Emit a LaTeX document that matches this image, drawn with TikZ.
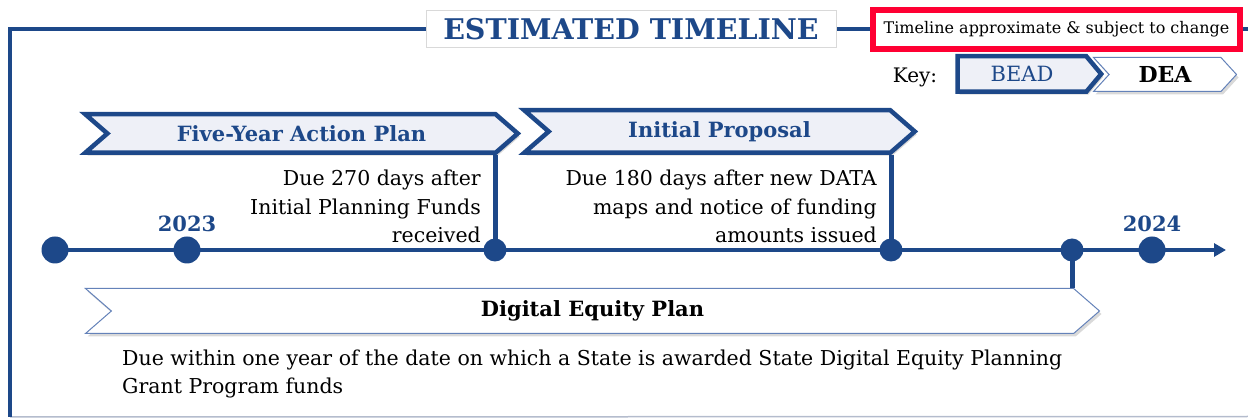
\documentclass[tikz,border=0pt]{standalone}
\usepackage{fontspec}
\setmainfont{DejaVu Serif}
\usetikzlibrary{positioning,shapes.symbols,arrows.meta,shadows}
\definecolor{beadblue}{RGB}{29,72,137}
\definecolor{beadfill}{RGB}{238,240,247}
\definecolor{notered}{RGB}{255,0,51}
\definecolor{deaedge}{RGB}{100,130,185}
\definecolor{rulegray}{RGB}{180,188,205}
\newcommand\hdfont{\fontsize{21}{25}\selectfont\bfseries}
\newcommand\dscfont{\fontsize{20.5}{28.5}\selectfont}
\tikzset{
  frame/.style={beadblue, line width=4.5pt},
  tline/.style={beadblue, line width=4pt, -{Triangle[length=12pt,width=13pt]}},
  conn/.style={beadblue, line width=5pt},
  dot/.style={circle, fill=beadblue, inner sep=0pt},
  boxshadow/.style={drop shadow={shadow xshift=2pt, shadow yshift=-3pt, opacity=.3}},
  beadarrow/.style={shape=signal, signal to=east, signal from=west, signal pointer angle=82,
    draw=beadblue, line width=4.5pt, fill=beadfill, text=beadblue, font=\hdfont, inner sep=0pt, boxshadow},
  deaarrow/.style={shape=signal, signal to=east, signal from=west, signal pointer angle=82,
    draw=deaedge, line width=1pt, fill=white, font=\hdfont, inner sep=0pt, boxshadow},
  desc/.style={font=\dscfont, inner sep=0pt},
  year/.style={text=beadblue, font=\fontsize{21}{25}\selectfont\bfseries, inner sep=0pt}
}
\begin{document}
\begin{tikzpicture}[x=1pt, y=-1pt]
  \useasboundingbox (0,0) rectangle (1248,419);
  % frame
  \coordinate (fbot) at (10,417);
  \coordinate (ftop) at (10,29);
  \coordinate (fend) at (1248,29);
  \coordinate (rend) at (1248,416.5);
  \draw[rulegray, line width=1.5pt] (fbot) -- (rend);
  \draw[frame] (fbot) -- (ftop) -- (fend);
  \node[draw=black!15, fill=white, minimum width=410pt, minimum height=37pt, text=beadblue,
    font=\fontsize{28.5}{30}\selectfont\bfseries, drop shadow={shadow xshift=1pt, shadow yshift=-1pt, opacity=.2}]
    (title) at (631,29) {ESTIMATED TIMELINE};
  \node[draw=notered, line width=6pt, fill=white, minimum width=367pt, minimum height=39pt,
    font=\fontsize{16}{18}\selectfont] (note) at (1056.5,29.5) {Timeline approximate \& subject to change};
  % key
  \node[font=\fontsize{20}{24}\selectfont, inner sep=0pt] (key) at (915,77) {Key:};
  \node[beadarrow, signal from=nowhere, signal pointer angle=100, font=\fontsize{21}{25}\selectfont,
    minimum width=143.5pt, minimum height=35.5pt] (bead) at (1022,74) {BEAD};
  \node[deaarrow, signal pointer angle=95, font=\fontsize{22}{25}\selectfont\bfseries, minimum width=143pt,
    minimum height=34pt] (dea) at (1165,74.5) {DEA};
  % phases
  \node[beadarrow, minimum width=432.5pt, minimum height=38.5pt] (fyp) at (301.5,133.5) {Five-Year Action Plan};
  \node[beadarrow, minimum width=390.5pt, minimum height=42.5pt] (ipp) at (719.5,131.5) {Initial Proposal};
  \node[deaarrow, minimum width=1014pt, minimum height=45pt] (dep) at (592.5,311) {Digital Equity Plan};
  % timeline
  \foreach \n/\x/\s in {d1/55/27, d2/187/27, d3/495/23, d4/891/23, d5/1072/23, d6/1152/27}
    \node[dot, minimum size=\s pt] (\n) at (\x,250) {};
  \coordinate (tlend) at (1226,250);
  \draw[tline] (d1.center) -- (tlend);
  \draw[conn] (fyp.south -| d3) -- (d3.center);
  \draw[conn] (ipp.south -| d4) -- (d4.center);
  \draw[conn] (d5.center) -- (d5 |- dep.north);
  \node[year, above=4pt of d2] (y23) {2023};
  \node[year, above=4pt of d6] (y24) {2024};
  % notes
  \node[desc, align=right, anchor=east] (fydesc) at (481,206.5)
    {Due 270 days after\\Initial Planning Funds\\received};
  \node[desc, align=right, anchor=east] (ipdesc) at (877,206.5)
    {Due 180 days after new DATA\\maps and notice of funding\\amounts issued};
  \node[desc, align=left, anchor=west] (depdesc) at (122,374)
    {Due within one year of the date on which a State is awarded State Digital Equity Planning\\Grant Program funds};
\end{tikzpicture}
\end{document}
